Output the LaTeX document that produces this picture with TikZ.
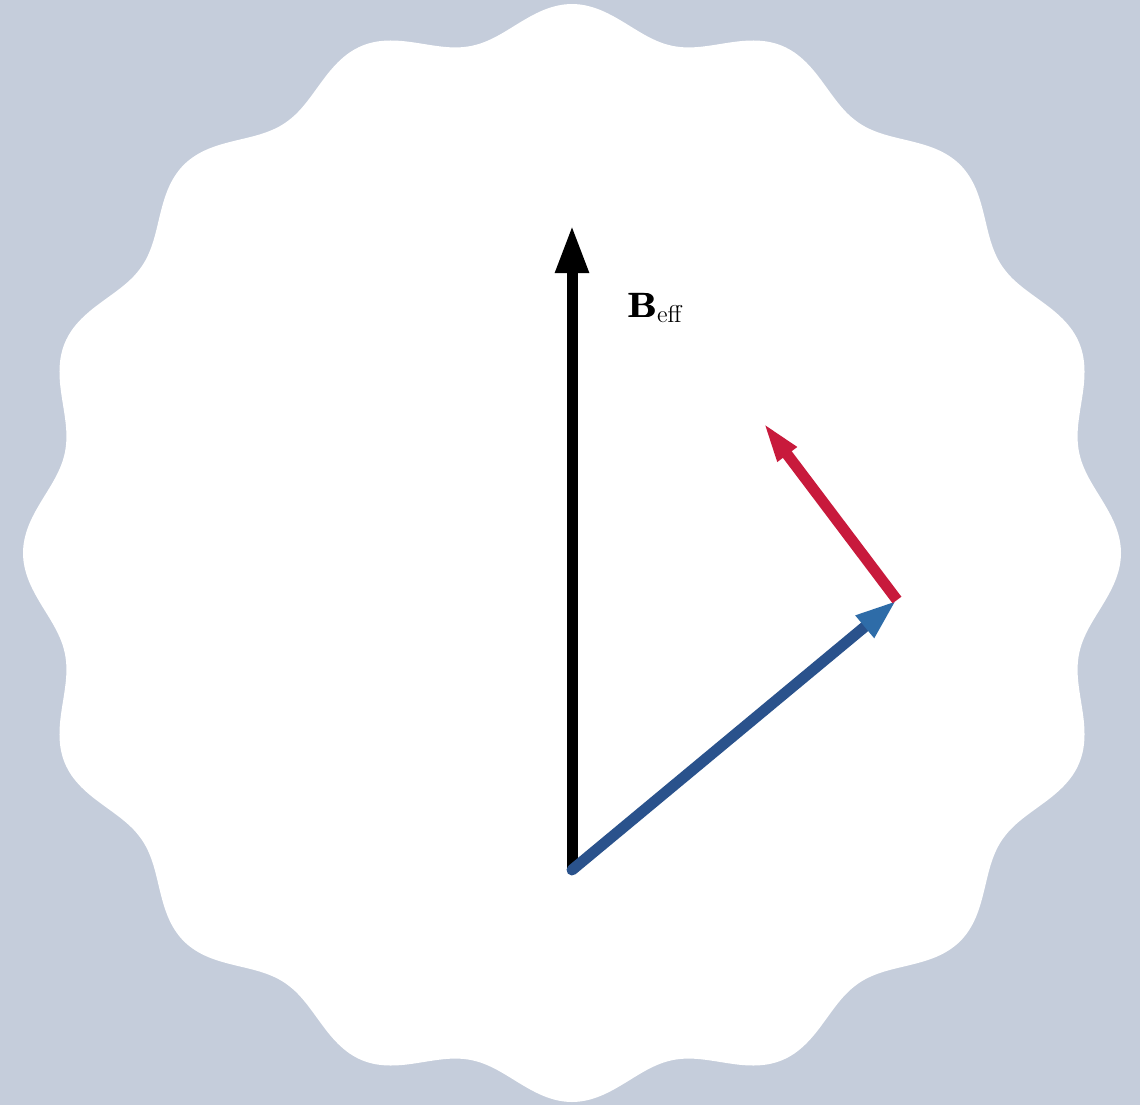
\documentclass[tikz,border=0pt]{standalone}
\usetikzlibrary{arrows.meta}
\definecolor{bgblue}{RGB}{197,205,219}
\definecolor{vecblue}{RGB}{42,82,140}
\definecolor{vecbluehead}{RGB}{46,108,168}
\definecolor{vecred}{RGB}{200,26,60}
\newcommand{\heavyB}{\rlap{\textbf{B}}\kern0.45pt\rlap{\textbf{B}}\kern0.45pt\textbf{B}}
\tikzset{
  vec/.style={line width=11pt},
  blackvec/.style={vec, black, -{Triangle[length=48pt,width=31pt]}},
  bluevec/.style={vec, vecblue, line cap=round, -{Triangle[length=42pt,width=26pt,color=vecbluehead]}},
  redvec/.style={vec, vecred, -{Triangle[length=42pt,width=21pt]}},
}
\begin{document}
\begin{tikzpicture}[x=1pt,y=-1pt]
\fill[bgblue] (0,0) rectangle (1140,1105);
\useasboundingbox (0,0) rectangle (1140,1105);
\fill[white] plot[domain=0:360,samples=481,smooth,variable=\t]
  ({572+(533+16*cos(16*\t))*cos(\t)},{553-(533+16*cos(16*\t))*sin(\t)}) -- cycle;
\coordinate (O) at (572,870);
\coordinate (Btip) at (572,225);
\coordinate (S) at (897,600);
\coordinate (Rtip) at (762,421);
\draw[blackvec] (O) -- (Btip);
\draw[bluevec] (O) -- (S);
\draw[redvec] (S) -- (Rtip);
\node[anchor=base west, inner sep=0pt, font=\LARGE] (lab) at (627,317) {\scalebox{2.03}{\heavyB$_{\mathrm{eff}}$}};
\end{tikzpicture}
\end{document}
